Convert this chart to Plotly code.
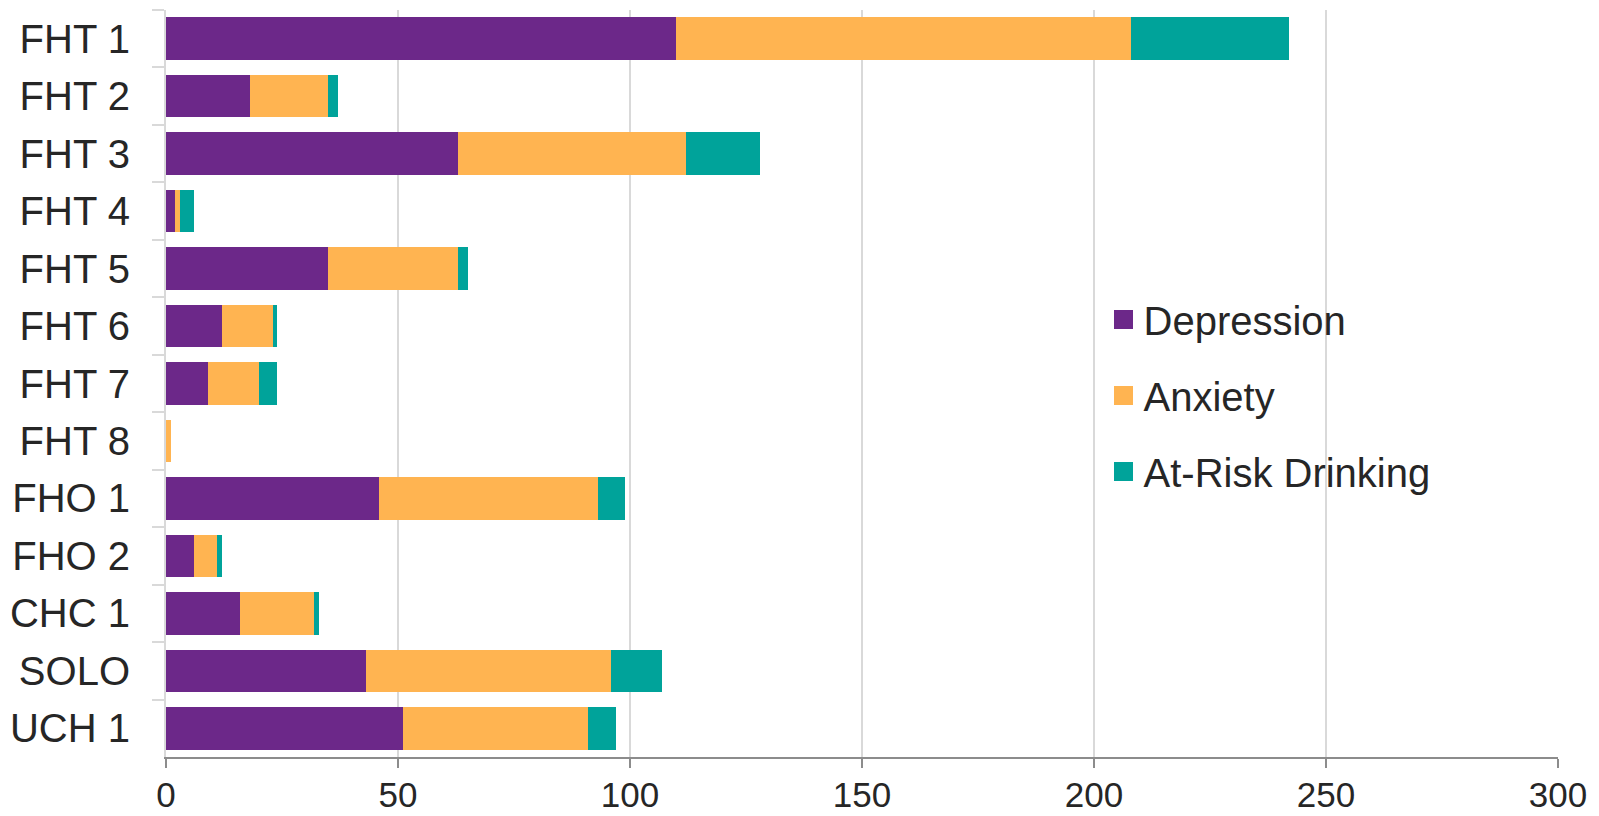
import plotly.graph_objects as go

categories = ["FHT 1", "FHT 2", "FHT 3", "FHT 4", "FHT 5", "FHT 6", "FHT 7", "FHT 8",
              "FHO 1", "FHO 2", "CHC 1", "SOLO", "UCH 1"]
depression = [110, 18, 63, 2, 35, 12, 9, 0, 46, 6, 16, 43, 51]
anxiety = [98, 17, 49, 1, 28, 11, 11, 1, 47, 5, 16, 53, 40]
drinking = [34, 2, 16, 3, 2, 1, 4, 0, 6, 1, 1, 11, 6]

series = [("Depression", depression, "#6C2889"),
          ("Anxiety", anxiety, "#FFB451"),
          ("At-Risk Drinking", drinking, "#00A39A")]

FONT = "Liberation Sans, Arial, sans-serif"

fig = go.Figure()
for name, vals, color in series:
    fig.add_trace(go.Bar(y=categories, x=vals, orientation="h", name=name,
                         marker=dict(color=color, line=dict(width=0)),
                         showlegend=False, legendgroup=name))
for name, vals, color in series:
    fig.add_trace(go.Scatter(x=[None], y=[None], mode="markers", name=name,
                             marker=dict(symbol="square", size=18, color=color,
                                         line=dict(width=3, color=color)),
                             showlegend=True, legendgroup=name))

fig.update_layout(
    barmode="stack",
    bargap=0.26,
    width=1599, height=816,
    margin=dict(l=166, r=41, t=10, b=59),
    plot_bgcolor="white", paper_bgcolor="white",
    font=dict(family=FONT, size=36, color="#262626"),
    legend=dict(x=0.6735, y=0.484, xanchor="left", yanchor="middle",
                font=dict(size=40, color="#262626"), tracegroupgap=21,
                bgcolor="rgba(0,0,0,0)", itemwidth=30),
)
fig.update_xaxes(range=[0, 300], tickvals=[0, 50, 100, 150, 200, 250, 300],
                 showgrid=True, gridcolor="#d9d9d9", gridwidth=1.5,
                 showline=True, linecolor="#8c8c8c", linewidth=1.5,
                 ticks="outside", ticklen=9, tickcolor="#8c8c8c", tickwidth=1.5,
                 zeroline=False, tickfont=dict(size=35), automargin=False,
                 ticklabelstandoff=-3)
fig.update_yaxes(categoryorder="array", categoryarray=categories, autorange="reversed",
                 showline=True, linecolor="#d9d9d9", linewidth=2,
                 ticks="outside", ticklen=12, tickcolor="#d9d9d9", tickwidth=2,
                 tickson="boundaries", showgrid=False, tickfont=dict(size=40),
                 ticklabelstandoff=26, automargin=False)

fig.write_html("out.html")
